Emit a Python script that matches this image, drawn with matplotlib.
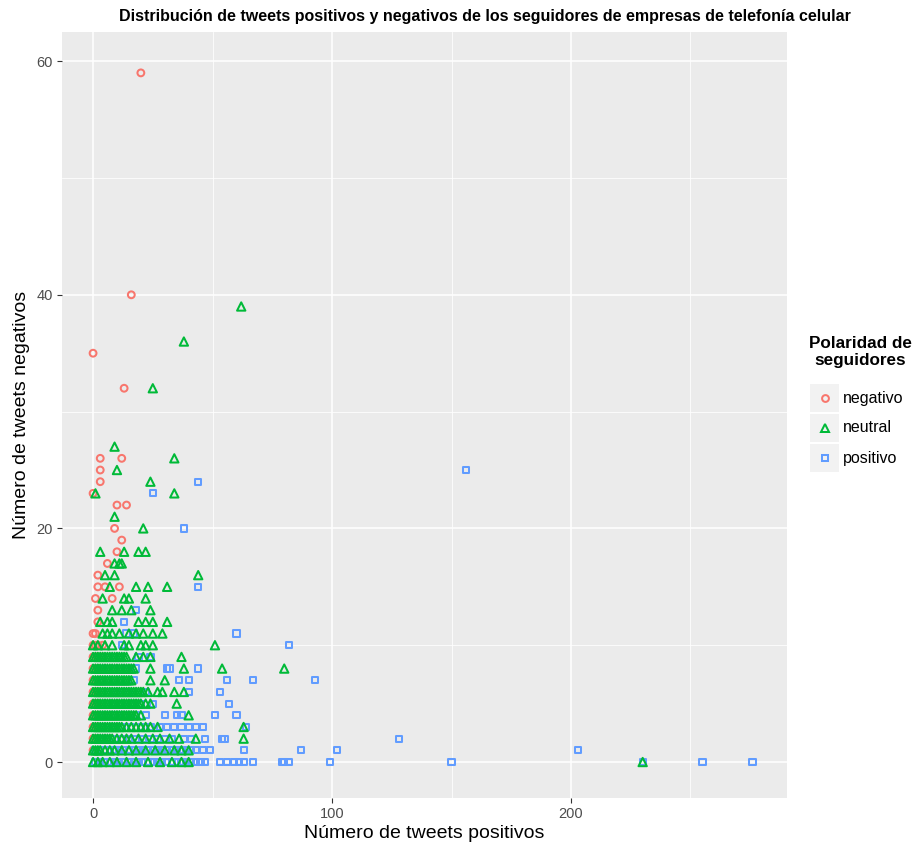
import matplotlib
matplotlib.use("Agg")
import matplotlib.pyplot as plt
from matplotlib.patches import Rectangle

plt.rcParams['font.family'] = ['Liberation Sans', 'DejaVu Sans']

categories = ["negativo", "neutral", "positivo"]
colors = ["#F8766D", "#00BA38", "#619CFF"]
markers = ["o", "^", "s"]

# rows: y value -> list of x values (number of negative tweets -> positive tweets)
neg_rows = {
    59: [20], 40: [16], 35: [0], 32: [13], 26: [3, 12], 25: [3], 24: [3], 23: [0],
    22: [10, 14], 20: [9], 19: [12], 18: [10], 17: [6], 16: [2], 15: [2, 5, 11],
    14: [1, 8], 13: [2], 12: [2], 11: [0, 1], 10: [0, 1, 2, 4], 9: [0, 1, 2, 4],
    8: [0, 1, 2], 7: [0, 1, 3], 6: [0, 1, 2], 5: [0, 1, 2], 4: [0, 1],
    3: [0, 1, 2], 2: [0, 1], 1: [0],
}
neu_rows = {
    39: [62], 36: [38], 32: [25], 27: [9], 26: [34], 25: [10], 24: [24],
    23: [1, 34], 21: [9], 20: [21], 18: [3, 13, 19, 22], 17: [9, 11, 12],
    16: [5, 9, 44], 15: [7, 18, 23, 31], 14: [4, 13, 15, 22], 13: [8, 12, 16, 24],
    12: [3, 6, 8, 19, 22, 25, 31],
    11: [4, 6, 8, 11, 15, 18, 21, 25, 29],
    10: [0, 2, 5, 8, 13, 15, 20, 22, 25, 51],
    9: [0, 1, 2, 3, 4, 5, 6, 7, 8, 9, 10, 11, 12, 13, 14, 18, 21, 24, 37],
    8: [0, 1, 2, 3, 4, 5, 6, 7, 8, 9, 10, 11, 12, 13, 14, 15, 16, 17, 24, 38, 54, 80],
    7: [0, 1, 2, 3, 4, 5, 6, 7, 8, 9, 10, 11, 12, 13, 14, 15, 16, 24, 30],
    6: [0, 1, 2, 3, 4, 5, 6, 7, 8, 9, 10, 11, 12, 13, 14, 15, 16, 17, 18, 19, 20,
        21, 23, 27, 29, 34, 38],
    5: [0, 1, 2, 3, 4, 5, 6, 7, 8, 9, 10, 11, 12, 13, 14, 15, 16, 17, 18, 19, 20,
        22, 24, 35],
    4: [0, 1, 2, 3, 4, 5, 6, 7, 8, 9, 10, 11, 12, 13, 14, 15, 16, 17, 18, 20, 40],
    3: [0, 1, 2, 3, 4, 5, 6, 7, 8, 9, 10, 11, 12, 14, 16, 18, 20, 22, 24, 27, 63],
    2: [0, 1, 2, 3, 4, 5, 6, 7, 8, 10, 12, 14, 16, 19, 22, 25, 28, 32, 36, 43, 63],
    1: [0, 1, 2, 3, 5, 7, 9, 12, 15, 18, 22, 26, 30, 34, 37, 40],
    0: [0, 2, 4, 7, 10, 14, 18, 23, 28, 33, 37, 40, 230],
}
pos_rows = {
    25: [156], 24: [44], 23: [25], 20: [38], 15: [44], 13: [18], 12: [13],
    11: [14, 17, 60], 10: [12, 82], 9: [11, 19, 24], 8: [18, 31, 32, 44],
    7: [17, 36, 40, 56, 67, 93], 6: [10, 15, 22, 40, 53],
    5: [8, 12, 16, 20, 25, 57],
    4: [5, 9, 13, 18, 22, 30, 35, 37, 51, 60],
    3: [4, 8, 12, 16, 20, 24, 28, 31, 34, 37, 40, 43, 46, 64],
    2: [3, 6, 9, 12, 15, 18, 21, 24, 27, 30, 33, 38, 41, 47, 54, 55, 128],
    1: [1, 3, 5, 7, 9, 11, 13, 15, 17, 19, 21, 23, 25, 27, 29, 31, 33, 35, 37,
        39, 41, 43, 46, 49, 63, 87, 102, 203],
    0: [1, 3, 5, 7, 9, 11, 13, 15, 17, 19, 21, 23, 25, 27, 29, 31, 33, 35, 37,
        39, 41, 43, 45, 47, 53, 56, 59, 61, 63, 67, 79, 80, 82, 99, 150, 230,
        255, 276],
}

x_ticks = [0, 100, 200]
y_ticks = [0, 20, 40, 60]

def flatten(rows):
    xs, ys = [], []
    for yv, xl in rows.items():
        for xv in xl:
            xs.append(xv)
            ys.append(yv)
    return xs, ys

fig = plt.figure(figsize=(9.14, 8.43), dpi=100)
ax = fig.add_axes([62/914, 1-798/843, (787-62)/914, (798-32)/843])
ax.set_facecolor("#EBEBEB")
for s in ax.spines.values():
    s.set_visible(False)

ax.set_xlim(-13.0, 290.4)
ax.set_ylim(-3.08, 62.5)
ax.set_xticks(x_ticks)
ax.set_yticks(y_ticks)
ax.set_xticks([50, 150, 250], minor=True)
ax.set_yticks([10, 30, 50], minor=True)
ax.grid(True, which="major", color="white", linewidth=1.1)
ax.grid(True, which="minor", color="white", linewidth=0.55)
ax.set_axisbelow(True)
ax.tick_params(which="major", length=3.5, width=0.8, color="#333333",
               labelcolor="#4D4D4D", labelsize=10.5, pad=3)
ax.tick_params(which="minor", length=0)

sizes = [24, 36, 20]
msizes = [4.9, 6.0, 4.5]
draw_order = [(0, neg_rows), (2, pos_rows), (1, neu_rows)]
for idx, rows in draw_order:
    xs, ys = flatten(rows)
    ax.scatter(xs, ys, s=sizes[idx], marker=markers[idx], facecolors="none",
               edgecolors=colors[idx], linewidths=1.45, zorder=3)

ax.set_xlabel("Número de tweets positivos", fontsize=14, labelpad=3)
ax.set_ylabel("Número de tweets negativos", fontsize=14, labelpad=5)
fig.text((118+852)/2/914, 1-17/843, "Distribución de tweets positivos y negativos de los seguidores de empresas de telefonía celular",
         ha="center", va="center", fontsize=11.5, fontweight="bold")

# legend
fig.text(860/914, 1-352/843, "Polaridad de\nseguidores", ha="center", va="center",
         fontsize=12.3, fontweight="bold", linespacing=1.1)
for i, cat in enumerate(categories):
    top = 384 + i*30
    fig.patches.append(Rectangle((810/914, 1-(top+28)/843), 29/914, 28/843,
                                 transform=fig.transFigure, facecolor="#F2F2F2",
                                 edgecolor="none"))
    cy = 1-(top+14)/843
    fig.lines.append(plt.Line2D([824.5/914], [cy], marker=markers[i], markersize=msizes[i],
                                markerfacecolor="none", markeredgecolor=colors[i],
                                markeredgewidth=1.45, linestyle="none",
                                transform=fig.transFigure))
    fig.text(843/914, cy, cat, ha="left", va="center", fontsize=11.5)

fig.savefig("out.png", dpi=100)
